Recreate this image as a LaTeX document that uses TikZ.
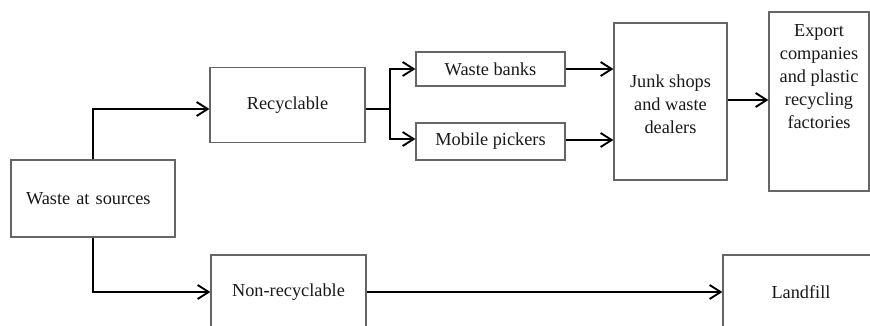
\documentclass[tikz,border=0pt]{standalone}
\usepackage{fontspec}
\setmainfont{Liberation Serif}
\usetikzlibrary{arrows.meta}

\begin{document}
\begin{tikzpicture}[x=1pt, y=-1pt,
  every node/.style={font=\fontsize{18.3}{23}\selectfont, text=black!90},
  box/.style={draw=black!60, line width=1.2pt, fill=white, inner sep=0pt, align=center},
  link/.style={draw=black, line width=1.9pt},
  arr/.style={link, -{Straight Barb[length=11pt, width=14pt]}}]

  \useasboundingbox (0,0) rectangle (870,326);
  \clip (0,0) rectangle (870,326);

  % boxes
  \node[box, minimum width=164pt, minimum height=77pt, text width=134pt, align=left]
    (src) at (93,198.5) {Waste at sources};
  \node[box, minimum width=155pt, minimum height=75pt] (rec) at (287.5,105) {Recyclable};
  \node[box, minimum width=149pt, minimum height=34pt] (wb) at (490.5,69) {Waste banks};
  \node[box, minimum width=149pt, minimum height=37pt] (mp) at (490.5,141.5) {Mobile pickers};
  \node[box, minimum width=113pt, minimum height=157pt] (junk) at (670.5,101.5) {};
  \node[align=center, inner sep=0pt] (junkt) at ([yshift=-3pt]junk.center)
    {Junk shops\\and waste\\dealers};
  \node[box, minimum width=100pt, minimum height=179pt] (exp) at (819,101.5) {};
  \node[anchor=north, align=center, inner sep=0pt] (expt) at ([yshift=-13pt]exp.north)
    {Export\\companies\\and plastic\\recycling\\factories};
  \node[box, minimum width=155pt, minimum height=74pt] (non) at (288.5,292) {Non-recyclable};
  \node[box, minimum width=156pt, minimum height=74pt] (land) at (801,292) {Landfill};

  % connectors
  \coordinate (fork) at (390,109);
  \draw[arr] (src.north) |- ([yshift=-4pt]rec.west);
  \draw[arr] (src.south) |- (non.west);
  \draw[link] ([yshift=-4pt]rec.east) -- (fork);
  \draw[arr] (fork) |- (wb.west);
  \draw[arr] (fork) |- ([yshift=2.5pt]mp.west);
  \draw[arr] (wb.east) -- (wb.east -| junk.west);
  \draw[arr] ([yshift=1.5pt]mp.east) -- ([yshift=1.5pt]mp.east -| junk.west);
  \draw[arr] ([yshift=1.5pt]junk.east) -- ([yshift=1.5pt]junk.east -| exp.west);
  \draw[arr] (non.east) -- (land.west);
\end{tikzpicture}
\end{document}
